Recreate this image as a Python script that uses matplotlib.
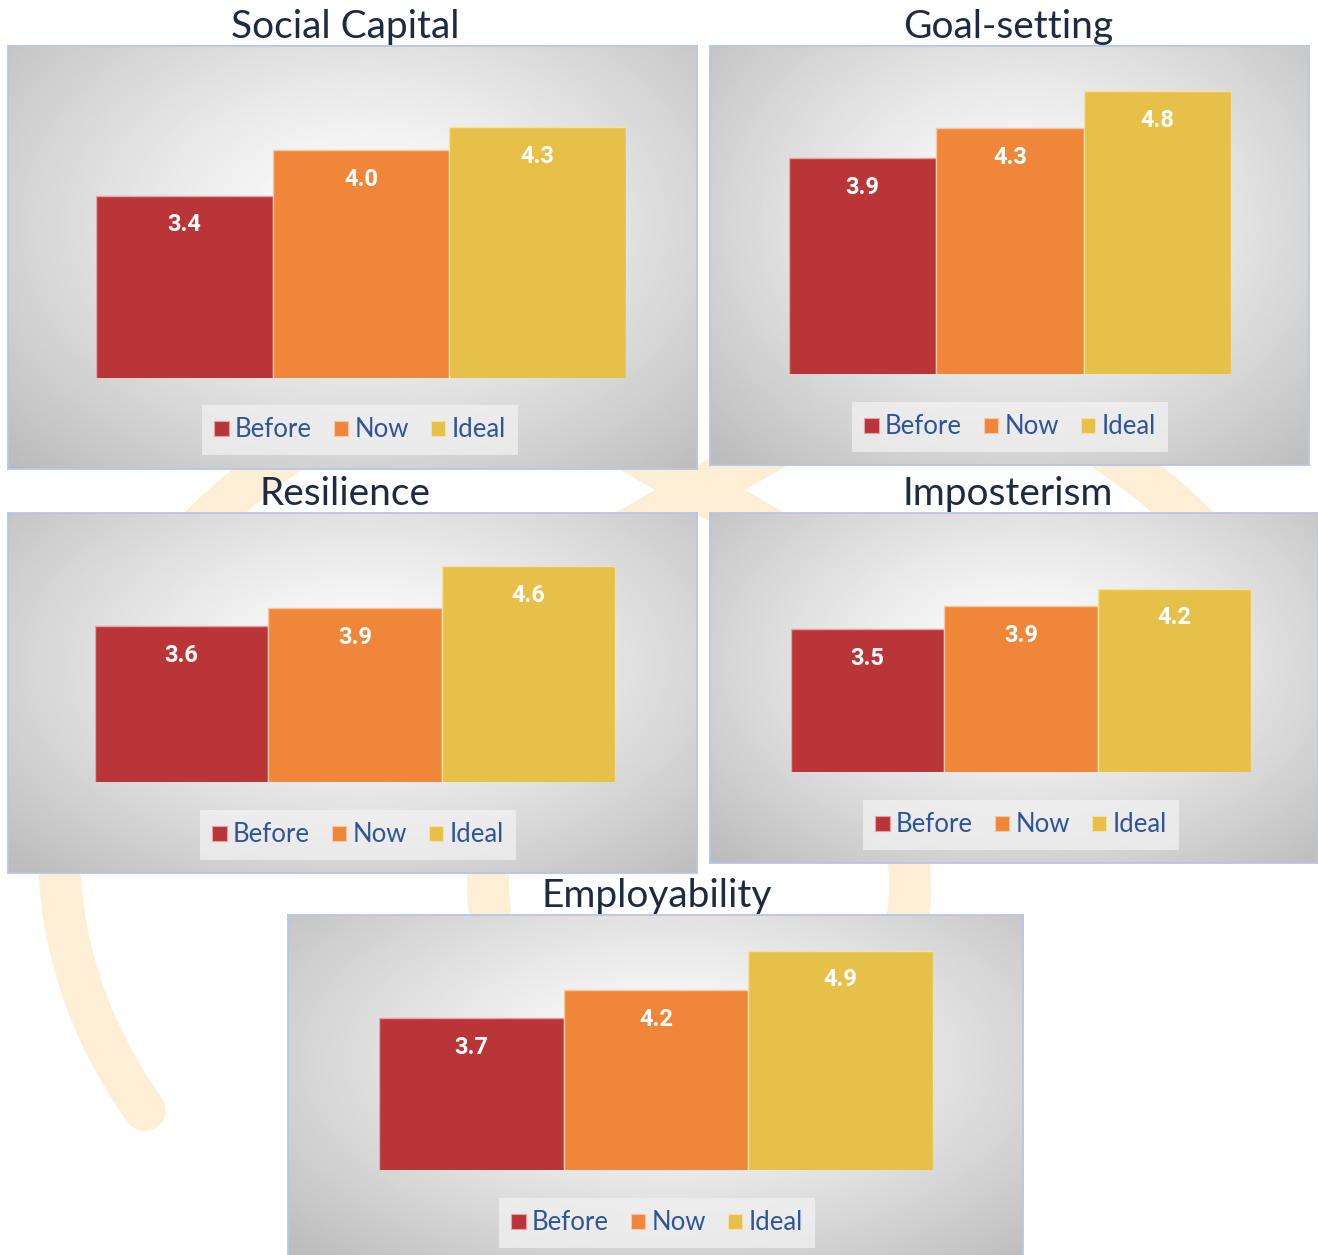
import numpy as np
import matplotlib.pyplot as plt
from matplotlib.patches import Patch

W, H = 1318, 1255

titles = ['Social Capital', 'Goal-setting', 'Resilience', 'Imposterism', 'Employability']
categories = ['Before', 'Now', 'Ideal']
before = [3.4, 3.9, 3.6, 3.5, 3.7]
now = [4.0, 4.3, 3.9, 3.9, 4.2]
ideal = [4.3, 4.8, 4.6, 4.2, 4.9]

colors = ['#BA3537', '#EF863A', '#E7C04A']
edges = ['#E8A0A0', '#F8C9A0', '#F6E2A0']
title_color = '#1D2A44'
legend_color = '#2F5597'
deco = '#FFEED6'
font = 'Lato'

# layout in pixels: (left, top, right, bottom)
frames = [(8, 46, 697, 469), (710, 46, 1309, 465), (8, 513, 697, 873),
          (710, 513, 1318, 863), (288, 915, 1023, 1258)]
plots = [(96, 74, 626, 378), (789, 76, 1231, 374), (95, 542, 615, 782),
         (791, 543, 1251, 772), (379, 945, 933, 1170)]
legend_xy = [(360, 430), (1010, 427), (358, 835), (1021, 825), (657, 1223)]
title_xy = [(345, 27), (1008, 27), (345, 494), (1008, 494), (657, 896)]


def frac(box):
    x0, y0, x1, y1 = box
    return [x0 / W, 1 - y1 / H, (x1 - x0) / W, (y1 - y0) / H]


fig = plt.figure(figsize=(W / 100, H / 100), dpi=100)
fig.patch.set_facecolor('white')

# faint decoration behind the panels
bg = fig.add_axes([0, 0, 1, 1])
bg.set_xlim(0, W)
bg.set_ylim(H, 0)
bg.axis('off')
lw = 42 * 72 / 100

for a0, a1, cap in [(120, 210, 'round'), (0, 60, 'butt')]:
    t = np.radians(np.linspace(a0, a1, 300))
    bg.plot(699 + 640 * np.cos(t), 851 - 518 * np.sin(t), color=deco, lw=lw,
            solid_capstyle=cap)
for a0, a1 in [(-70, 70), (110, 250)]:
    t = np.radians(np.linspace(a0, a1, 200))
    bg.plot(699 + 211 * np.cos(t), 885 - 211 * np.sin(t), color=deco, lw=lw,
            solid_capstyle='butt')
for ang in (30, -30):
    dx = 200 * np.cos(np.radians(ang))
    dy = 200 * np.sin(np.radians(ang))
    bg.plot([700 - dx, 700 + dx], [490 + dy, 490 - dy], color=deco, lw=45 * 72 / 100,
            solid_capstyle='butt')

# soft radial shading for each panel
yy, xx = np.mgrid[0:1:240j, 0:1:360j]
r = np.sqrt(((xx - 0.52) / 0.52) ** 2 + ((yy - 0.42) / 0.58) ** 2) / np.sqrt(2)
shade = 1 - 0.27 * np.clip(r, 0, 1) ** 1.25

for k in range(len(titles)):
    pax = fig.add_axes(frac(frames[k]))
    pax.imshow(shade, cmap='gray', vmin=0, vmax=1, extent=[0, 1, 0, 1], aspect='auto')
    pax.set_xticks([])
    pax.set_yticks([])
    for s in pax.spines.values():
        s.set_color('#B4C7E7')
        s.set_linewidth(1.3)

    vals = [before[k], now[k], ideal[k]]
    ax = fig.add_axes(frac(plots[k]))
    ax.patch.set_alpha(0)
    ax.bar(range(3), vals, width=1.0, bottom=0, color=colors, edgecolor=edges,
           linewidth=1.0)
    ax.set_xlim(-0.5, 2.5)
    ax.set_ylim(1, 5)
    ax.axis('off')
    for i, v in enumerate(vals):
        ax.annotate(f'{v:.1f}', (i, v), xytext=(0, -21), textcoords='offset points',
                    ha='center', va='center', color='white', fontsize=17,
                    fontweight='bold', family='Roboto')

    handles = [Patch(facecolor=c, edgecolor=e, linewidth=0.8) for c, e in zip(colors, edges)]
    lx, ly = legend_xy[k]
    leg = pax.legend(handles, categories, loc='center', bbox_to_anchor=(lx / W, 1 - ly / H),
                     bbox_transform=fig.transFigure, ncol=3, frameon=True,
                     facecolor='#F3F3F3', edgecolor='none', framealpha=0.7,
                     fancybox=False, handlelength=0.55, handleheight=0.55,
                     handletextpad=0.25, columnspacing=0.85, borderpad=0.5,
                     prop={'family': font, 'size': 18.5})
    for txt in leg.get_texts():
        txt.set_color(legend_color)

    tx, ty = title_xy[k]
    fig.text(tx / W, 1 - ty / H, titles[k], ha='center', va='center', fontsize=28,
             color=title_color, family=font)

fig.savefig('out.png', dpi=100)
